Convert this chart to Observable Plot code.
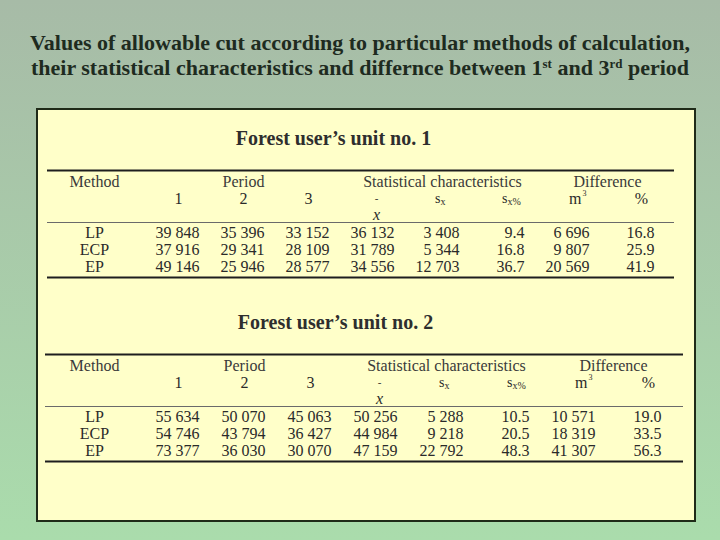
<!DOCTYPE html>
<html><head><meta charset="utf-8">
<script src="https://cdn.jsdelivr.net/npm/d3@7"></script>
<script src="https://cdn.jsdelivr.net/npm/@observablehq/plot@0.6"></script>
<style>
html,body{margin:0;padding:0}
body{width:720px;height:540px;position:relative;overflow:hidden;background:linear-gradient(#a7bba7,#aadcac);font-family:"Liberation Serif",serif}
#title{position:absolute;left:0;top:30px;width:720px;text-align:center;font-weight:bold;font-size:22px;line-height:25px;color:#1e2b1f}
#title sup{font-size:13px;vertical-align:7px;line-height:0}
#panel{position:absolute;left:36px;top:108px;width:656px;height:410px;background:#ffffc9;border:2px solid #1f2a18}
#t1,#t2{position:absolute;left:0}
#t1{top:0}
#t2{top:184px}
svg{display:block}
</style></head>
<body>
<div id="title">Values of allowable cut according to particular methods of calculation,<br>their statistical characteristics and differnce between 1<sup>st</sup> and 3<sup>rd</sup> period</div>
<div id="panel"><div id="t1"></div><div id="t2"></div></div>
<script>
const methods = ["LP", "ECP", "EP"];
const periodLabels = ["1", "2", "3"];
const groupLabels = ["Method", "Period", "Statistical characteristics", "Difference"];
const unitTitles = ["Forest user’s unit no. 1", "Forest user’s unit no. 2"];
const colKeys = ["p1", "p2", "p3", "mean", "sx", "sxp", "m3", "pct"];

// Forest user's unit no. 1
const u1Period1 = [39848, 37916, 49146];
const u1Period2 = [35396, 29341, 25946];
const u1Period3 = [33152, 28109, 28577];
const u1Mean = [36132, 31789, 34556];
const u1Sx = [3408, 5344, 12703];
const u1SxPct = [9.4, 16.8, 36.7];
const u1DiffM3 = [6696, 9807, 20569];
const u1DiffPct = [16.8, 25.9, 41.9];

// Forest user's unit no. 2
const u2Period1 = [55634, 54746, 73377];
const u2Period2 = [50070, 43794, 36030];
const u2Period3 = [45063, 36427, 30070];
const u2Mean = [50256, 44984, 47159];
const u2Sx = [5288, 9218, 22792];
const u2SxPct = [10.5, 20.5, 48.3];
const u2DiffM3 = [10571, 18319, 41307];
const u2DiffPct = [19.0, 33.5, 56.3];

const locale = d3.formatLocale({decimal: ".", thousands: " ", grouping: [3], currency: ["", ""]});
const fInt = locale.format(",d");
const fDec = locale.format(".1f");

function cellsFor(cols) {
  const out = [];
  methods.forEach((m, i) => colKeys.forEach((k, j) => {
    const v = cols[j][i];
    out.push({row: m, col: k, text: (k === "sxp" || k === "pct") ? fDec(v) : fInt(v)});
  }));
  return out;
}

function table(title, cols, layout) {
  const rows = ["h1", "h2", "h3", ...methods];
  const C = k => () => k;
  const font = {fontFamily: "Liberation Serif", fontSize: 16, fill: "#2a2a2a"};
  return Plot.plot({
    width: 656, height: 184,
    marginLeft: 0, marginRight: 0, marginTop: 70, marginBottom: 27,
    x: {type: "point", domain: colKeys, range: layout.xRange, padding: 0, axis: null},
    y: {type: "point", domain: rows, padding: 0, axis: null},
    style: {background: "transparent", overflow: "visible"},
    marks: [
      Plot.text([title], {x: C("p3"), y: C("h1"), dx: 4, dy: -43, ...font, fontSize: 20, fontWeight: "bold", fill: "#2e2e2e"}),
      Plot.ruleY(["h1"], {dy: -11, stroke: "#1e1e1e", strokeWidth: 2, insetLeft: layout.insetLeft, insetRight: layout.insetRight}),
      Plot.ruleY([methods[0]], {dy: -10, stroke: "#6a6a6a", strokeWidth: 1, insetLeft: layout.insetLeft, insetRight: layout.insetRight}),
      Plot.ruleY([methods[methods.length - 1]], {dy: 11, stroke: "#1e1e1e", strokeWidth: 2, insetLeft: layout.insetLeft, insetRight: layout.insetRight}),
      // group headers
      Plot.text([groupLabels[0]], {x: C("p1"), y: C("h1"), dx: -105, ...font, fill: "#3a3a3a"}),
      Plot.text([groupLabels[1]], {x: C("p2"), y: C("h1"), dx: -21, ...font, fill: "#3a3a3a"}),
      Plot.text([groupLabels[2]], {x: C("sx"), y: C("h1"), dx: -17, ...font, fill: "#3a3a3a"}),
      Plot.text([groupLabels[3]], {x: C("m3"), y: C("h1"), dx: 18, ...font, fill: "#3a3a3a"}),
      // sub headers
      Plot.text(periodLabels, {x: (d, i) => colKeys[i], y: C("h2"), dx: -21, ...font}),
      Plot.text(["-"], {x: C("mean"), y: C("h2"), dx: -18, dy: 0, ...font, fontSize: 11}),
      Plot.text(["x"], {x: C("mean"), y: C("h3"), dx: -18, dy: -1, ...font, fontStyle: "italic"}),
      Plot.text(["s"], {x: C("sx"), y: C("h2"), dx: -19, textAnchor: "end", ...font, fontSize: 14}),
      Plot.text(["x"], {x: C("sx"), y: C("h2"), dx: -19, dy: 3, textAnchor: "start", ...font, fontSize: 10}),
      Plot.text(["s"], {x: C("sxp"), y: C("h2"), dx: -17, textAnchor: "end", ...font, fontSize: 14}),
      Plot.text(["x%"], {x: C("sxp"), y: C("h2"), dx: -17, dy: 3, textAnchor: "start", ...font, fontSize: 10}),
      Plot.text(["m"], {x: C("m3"), y: C("h2"), dx: -8, textAnchor: "end", ...font}),
      Plot.text(["3"], {x: C("m3"), y: C("h2"), dx: -7, dy: -5, textAnchor: "start", ...font, fontSize: 8}),
      Plot.text(["%"], {x: C("pct"), y: C("h2"), dx: -13, ...font}),
      // body
      Plot.text(methods, {x: C("p1"), y: d => d, dx: -105, ...font}),
      Plot.text(cellsFor(cols), {x: "col", y: "row", text: "text", textAnchor: "end", ...font})
    ]
  });
}

document.getElementById("t1").append(table(unitTitles[0],
  [u1Period1, u1Period2, u1Period3, u1Mean, u1Sx, u1SxPct, u1DiffM3, u1DiffPct],
  {xRange: [160, 617], insetLeft: 9, insetRight: 20}));
document.getElementById("t2").append(table(unitTitles[1],
  [u2Period1, u2Period2, u2Period3, u2Mean, u2Sx, u2SxPct, u2DiffM3, u2DiffPct],
  {xRange: [159, 625], insetLeft: 7, insetRight: 11}));
</script>
</body></html>
